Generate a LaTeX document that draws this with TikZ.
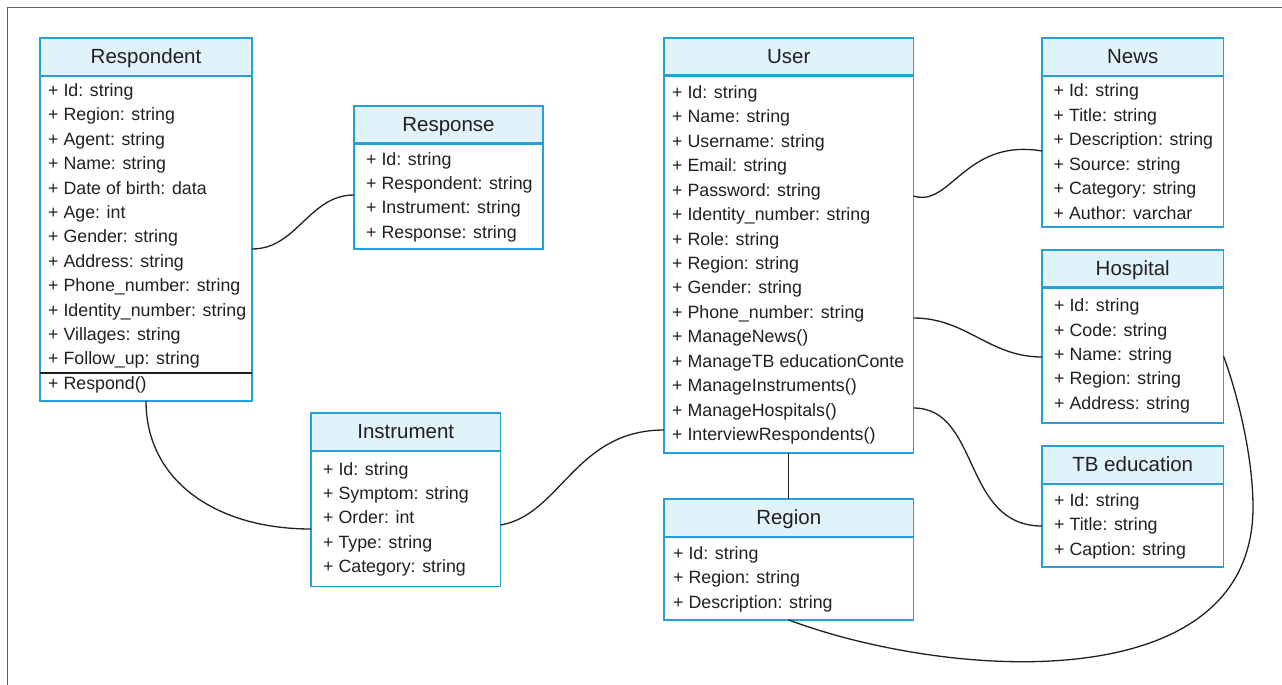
\documentclass[tikz,border=0pt]{standalone}
\usepackage{fontspec}
\setmainfont{Liberation Sans}
\usetikzlibrary{fit}
\definecolor{boxblue}{RGB}{38,160,218}
\definecolor{hdrblue}{RGB}{224,242,250}
\definecolor{ink}{RGB}{35,31,32}
\definecolor{framegray}{RGB}{95,95,98}
\tikzset{
  boxline/.style={draw=boxblue, line width=1.8pt},
  hdrline/.style={draw=boxblue, line width=2.2pt},
  conn/.style={draw=ink, line width=1.3pt},
  rowtext/.style={anchor=base west, inner sep=0pt, text=ink, font=\fontsize{17.8}{20}\selectfont},
  titletext/.style={anchor=base, inner sep=0pt, text=ink, font=\fontsize{20.5}{24}\selectfont},
  clsnode/.style={rectangle, fill=white, inner sep=0pt, outer sep=0pt},
}
\newcommand{\classbox}[7]{% name, L, T, R, B, header bottom, title
  \node[clsnode, fit={(#2,#3) (#4,#5)}] (#1) {};
  \fill[hdrblue] (#1.north west) rectangle (#4,#6);
  \draw[hdrline] (#2,#6) -- (#4,#6);
  \draw[boxline] (#1.north west) rectangle (#1.south east);
  \node[titletext] (#1-title) at ({(#2+#4)/2},#3+25.5) {#7};
}
\newcommand{\classrows}[5]{% name, x, first baseline, step, list
  \foreach \t [count=\i from 0] in {#5} \node[rowtext] (#1-r\i) at (#2,#3+\i*#4) {\t};
}
\begin{document}
\begin{tikzpicture}[x=1pt,y=-1pt]
\useasboundingbox (0,0) rectangle (1282,685);
% frame
\draw[framegray, line width=1.3pt] (7.5,685) -- (7.5,7.5) -- (1282,7.5);

% Respondent
\classbox{resp}{40}{38}{252}{401}{76}{Respondent}
\classrows{resp}{48}{96.5}{24.4}{+ Id: string, + Region: string, + Agent: string, + Name: string, + Date of birth: data, + Age: int, + Gender: string, + Address: string, + Phone\_number: string, + Identity\_number: string, + Villages: string, + Follow\_up: string, + Respond()}
\draw[ink, line width=1.3pt] ([yshift=-335pt]resp.north west) -- ([yshift=-335pt]resp.north east);

% Response
\classbox{response}{354}{106}{543}{249}{143.5}{Response}
\classrows{response}{366}{165}{24.4}{+ Id: string, + Respondent: string, + Instrument: string, + Response: string}

% User
\classbox{user}{664}{38}{913.5}{453}{75.5}{User}
\classrows{user}{672}{98.3}{24.45}{+ Id: string, + Name: string, + Username: string, + Email: string, + Password: string, + Identity\_number: string, + Role: string, + Region: string, + Gender: string, + Phone\_number: string, + ManageNews(), + ManageTB educationConte, + ManageInstruments(), + ManageHospitals(), + InterviewRespondents()}

% News
\classbox{news}{1042}{38}{1223.5}{227}{76}{News}
\classrows{news}{1053.5}{96.7}{24.46}{+ Id: string, + Title: string, + Description: string, + Source: string, + Category: string, + Author: varchar}

% Hospital
\classbox{hosp}{1042}{250}{1223.5}{423}{287.5}{Hospital}
\classrows{hosp}{1054}{311.7}{24.4}{+ Id: string, + Code: string, + Name: string, + Region: string, + Address: string}

% TB education
\classbox{tbedu}{1042}{446}{1223.5}{567}{484}{TB education}
\classrows{tbedu}{1054}{506.7}{24.2}{+ Id: string, + Title: string, + Caption: string}

% Instrument
\classbox{instr}{311}{413}{500.5}{586.5}{451}{Instrument}
\classrows{instr}{323}{475}{24.4}{+ Id: string, + Symptom: string, + Order: int, + Type: string, + Category: string}

% Region
\classbox{region}{664}{499}{913.5}{620}{537}{Region}
\classrows{region}{673}{559}{24.6}{+ Id: string, + Region: string, + Description: string}

% connectors
\draw[conn] ([yshift=-211pt]resp.north east) .. controls +(45,0) and +(-45,0) .. ([yshift=-89pt]response.north west);
\draw[conn] (resp.south) .. controls +(0,79) and +(-96,0) .. ([yshift=-116pt]instr.north west);
\draw[conn] ([yshift=-112pt]instr.north east) .. controls +(60,-10) and +(-89,0) .. ([yshift=-392pt]user.north west);
\draw[conn] ([yshift=-158pt]user.north east) .. controls +(37,12) and +(-77,-13) .. ([yshift=-113pt]news.north west);
\draw[conn] ([yshift=-280pt]user.north east) .. controls +(53,0) and +(-53,0) .. ([yshift=-107pt]hosp.north west);
\draw[conn] ([yshift=-370pt]user.north east) .. controls +(67,0) and +(-80,0) .. ([yshift=-80pt]tbedu.north west);
\draw[conn] (user.south) -- (region.north);
\coordinate (loop) at (1253,507);
\draw[conn] ([yshift=-106pt]hosp.north east) .. controls +(16,44) and +(0,-47) .. (loop) .. controls +(0,193) and +(161,60) .. (region.south);
\end{tikzpicture}
\end{document}
